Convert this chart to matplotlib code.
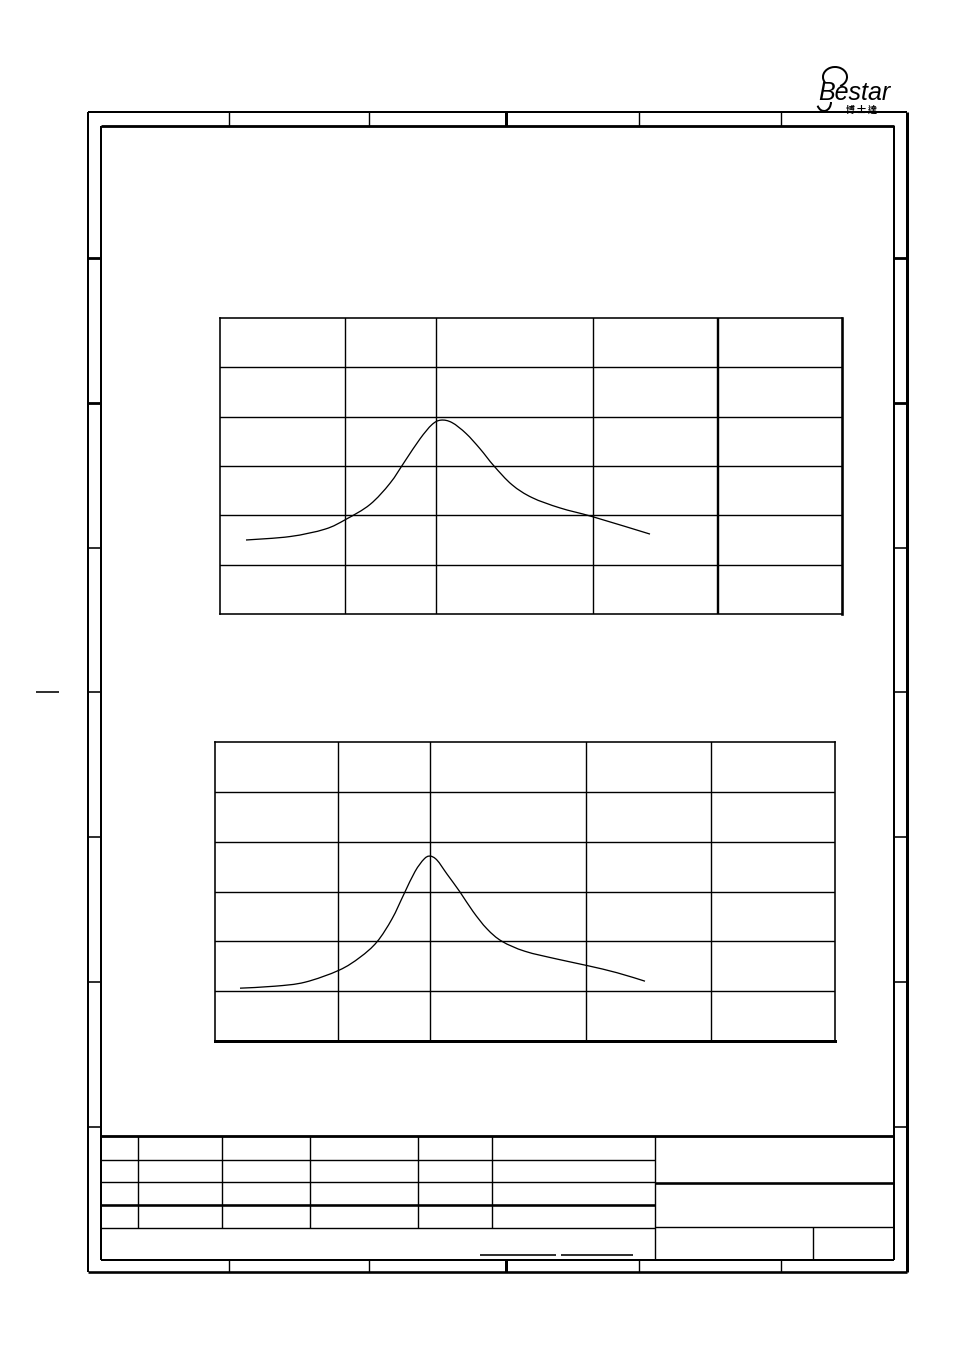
"""Datasheet page with two response curves drawn inside a drawing frame."""
import matplotlib.pyplot as plt
from matplotlib.patches import Arc, PathPatch
from matplotlib.path import Path

# Upper chart: grid column edges (px from chart left) and curve
chart1_cols = [0, 125, 216, 373, 498, 622]
chart1_rows = [0, 1, 2, 3, 4, 5, 6]
curve1_x = [26, 70, 105, 126, 150, 170, 185, 200, 212, 221, 232, 246, 260,
            274, 292, 312, 340, 373, 430]
curve1_y = [1.50, 1.57, 1.72, 1.92, 2.22, 2.65, 3.10, 3.55, 3.84, 3.93, 3.88,
            3.66, 3.35, 3.00, 2.62, 2.36, 2.15, 1.97, 1.62]

# Lower chart
chart2_cols = [0, 123, 215, 371, 496, 620]
chart2_rows = [0, 1, 2, 3, 4, 5, 6]
curve2_x = [25, 60, 90, 124, 145, 162, 177, 189, 200, 209, 215, 222, 232,
            245, 258, 272, 287, 310, 343, 373, 402, 430]
curve2_y = [1.06, 1.10, 1.18, 1.42, 1.68, 1.99, 2.45, 2.95, 3.40, 3.65, 3.71,
            3.63, 3.35, 2.99, 2.60, 2.25, 2.00, 1.80, 1.64, 1.51, 1.37, 1.20]

# Frame zone marks
zone_x = [229, 369, 506, 639, 781]
zone_y = [258, 403, 548, 692, 837, 982, 1127]

# Title block columns
tb_cols = [138, 222, 310, 418, 492]
tb_rows = [1160, 1182, 1205]

W, H = 954, 1350
PX = 0.72  # one pixel in points at dpi 100


def smooth_path(xs, ys):
    """Catmull-Rom through the points, as cubic bezier segments."""
    pts = list(zip(xs, ys))
    verts = [pts[0]]
    codes = [Path.MOVETO]
    n = len(pts)
    for i in range(n - 1):
        p0 = pts[max(i - 1, 0)]
        p1 = pts[i]
        p2 = pts[i + 1]
        p3 = pts[min(i + 2, n - 1)]
        c1 = (p1[0] + (p2[0] - p0[0]) / 6, p1[1] + (p2[1] - p0[1]) / 6)
        c2 = (p2[0] - (p3[0] - p1[0]) / 6, p2[1] - (p3[1] - p1[1]) / 6)
        verts += [c1, c2, p2]
        codes += [Path.CURVE4] * 3
    return Path(verts, codes)


def draw_chart(fig, box, cols, rows, cx, cy, thick_cols=(), thick_rows=()):
    left, top, right, bottom = box
    ax = fig.add_axes([left / W, 1 - bottom / H, (right - left) / W,
                       (bottom - top) / H])
    ax.set_xlim(cols[0], cols[-1])
    ax.set_ylim(rows[0], rows[-1])
    ax.set_xticks([])
    ax.set_yticks([])
    for s in ax.spines.values():
        s.set_linewidth(1.6 * PX)
    for c in cols[1:-1]:
        lw = 2.4 if c in thick_cols else 1.4
        ax.axvline(c, color='black', lw=lw * PX)
    for r in rows[1:-1]:
        ax.axhline(r, color='black', lw=1.4 * PX)
    if 'right' in thick_cols:
        ax.spines['right'].set_linewidth(2.6 * PX)
    if 'bottom' in thick_rows:
        ax.spines['bottom'].set_linewidth(3.0 * PX)
    ax.add_patch(PathPatch(smooth_path(cx, cy), facecolor='none',
                           edgecolor='black', lw=1.3 * PX))
    return ax


def main():
    fig = plt.figure(figsize=(W / 100, H / 100), dpi=100)
    bg = fig.add_axes([0, 0, 1, 1])
    bg.set_xlim(0, W)
    bg.set_ylim(H, 0)
    bg.axis('off')

    def line(x0, y0, x1, y1, w=1.4):
        bg.plot([x0, x1], [y0, y1], color='black', lw=w * PX,
                solid_capstyle='butt')

    # outer and inner frame
    line(88, 112, 907, 112, 2.0)
    line(88, 112, 88, 1272, 2.0)
    line(88, 1272, 907, 1272, 2.6)
    line(907, 112, 907, 1272, 3.0)
    line(101, 126, 894, 126, 2.8)
    line(101, 126, 101, 1260, 2.0)
    line(894, 126, 894, 1260, 2.0)
    line(101, 1260, 894, 1260, 2.0)

    # zone marks
    for x in zone_x:
        w = 3.0 if x == 506 else 1.4
        line(x, 112, x, 126, w)
        line(x, 1260, x, 1272, w)
    for y in zone_y:
        w = 2.8 if y in (258, 403) else 1.6
        line(88, y, 101, y, w)
        line(894, y, 907, y, w)
    line(36, 692, 59, 692, 1.6)

    # title block
    line(101, 1136, 894, 1136, 2.8)
    for x in tb_cols:
        line(x, 1136, x, 1228, 1.4)
    line(655, 1136, 655, 1260, 1.4)
    for y in tb_rows:
        w = 2.6 if y == 1205 else 1.4
        line(101, y, 655, y, w)
    line(101, 1228, 655, 1228, 1.4)
    line(655, 1183, 894, 1183, 2.6)
    line(655, 1227, 894, 1227, 1.4)
    line(813, 1227, 813, 1260, 1.4)
    line(480, 1255, 556, 1255, 1.6)
    line(561, 1255, 633, 1255, 1.6)

    # logo
    bg.text(818, 100, 'Bestar', fontsize=18, style='italic',
            family='Liberation Sans', ha='left', va='baseline')
    bg.add_patch(Arc((835, 77), 24, 20, theta1=150, theta2=420,
                     color='black', lw=2.0 * PX))
    bg.add_patch(Arc((824, 102), 14, 18, theta1=0, theta2=150,
                     color='black', lw=2.0 * PX))
    bg.text(862, 112.5, '博 士 達', fontsize=6.5, weight='bold',
            family=['Noto Sans CJK TC', 'DejaVu Sans'], ha='center',
            va='baseline')

    draw_chart(fig, (220, 318, 842, 614), chart1_cols, chart1_rows,
               curve1_x, curve1_y, thick_cols=(498, 'right'))
    draw_chart(fig, (215, 742, 835, 1041), chart2_cols, chart2_rows,
               curve2_x, curve2_y, thick_rows=('bottom',))

    fig.savefig('out.png', dpi=100)


if __name__ == '__main__':
    main()
